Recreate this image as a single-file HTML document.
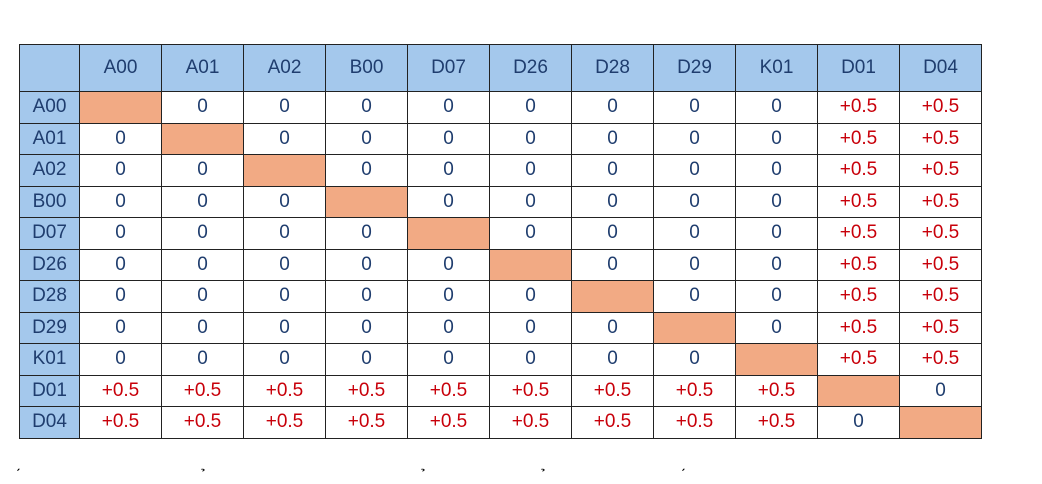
<!DOCTYPE html>
<html><head><meta charset="utf-8"><style>
body{margin:0;width:1042px;height:484px;background:#fff;overflow:hidden;position:relative;font-family:"Liberation Sans",sans-serif}
table{position:absolute;left:19px;top:44px;border-collapse:collapse;table-layout:fixed}
td,th{border:1px solid #222;padding:0;text-align:center;font-size:19px;font-weight:normal;color:#1f3d6e}
th{background:#a4c8ec;height:46px}
td{height:30.5px;width:81px}
td.rh{background:#a4c8ec;width:59px}
td.diag{background:#f2aa84}
td.pos{color:#c8000a}
.acc{position:absolute;top:470px;font-size:16px;color:#000}
</style></head><body>
<table><thead><tr id="hdr"></tr></thead><tbody id="body"></tbody></table>
<span class="acc" style="left:20px">́</span>
<span class="acc" style="left:205px">̉</span>
<span class="acc" style="left:425px">̉</span>
<span class="acc" style="left:545px">̉</span>
<span class="acc" style="left:685px">́</span>
<script>
const labels=["A00","A01","A02","B00","D07","D26","D28","D29","K01","D01","D04"];
const groupA=["A00","A01","A02","B00","D07","D26","D28","D29","K01"];
const groupB=["D01","D04"];
const sameGroupValue="0";
const crossGroupValue="+0.5";
const hdr=document.getElementById('hdr');
const corner=document.createElement('th');


corner.style.width='59px';
hdr.appendChild(corner);
labels.forEach(l=>{const th=document.createElement('th');th.textContent=l;


hdr.appendChild(th);});
const body=document.getElementById('body');
labels.forEach((r,i)=>{const tr=document.createElement('tr');


const rh=document.createElement('td');rh.className='rh';rh.textContent=r;


tr.appendChild(rh);
labels.forEach((c,j)=>{const td=document.createElement('td');


if(i===j){td.className='diag';}
else{const same=(groupA.includes(r)&&groupA.includes(c))||(groupB.includes(r)&&groupB.includes(c));
const v=same?sameGroupValue:crossGroupValue;td.textContent=v;if(v.startsWith('+'))td.className='pos';}
tr.appendChild(td);});
body.appendChild(tr);});
</script>
</body></html>
